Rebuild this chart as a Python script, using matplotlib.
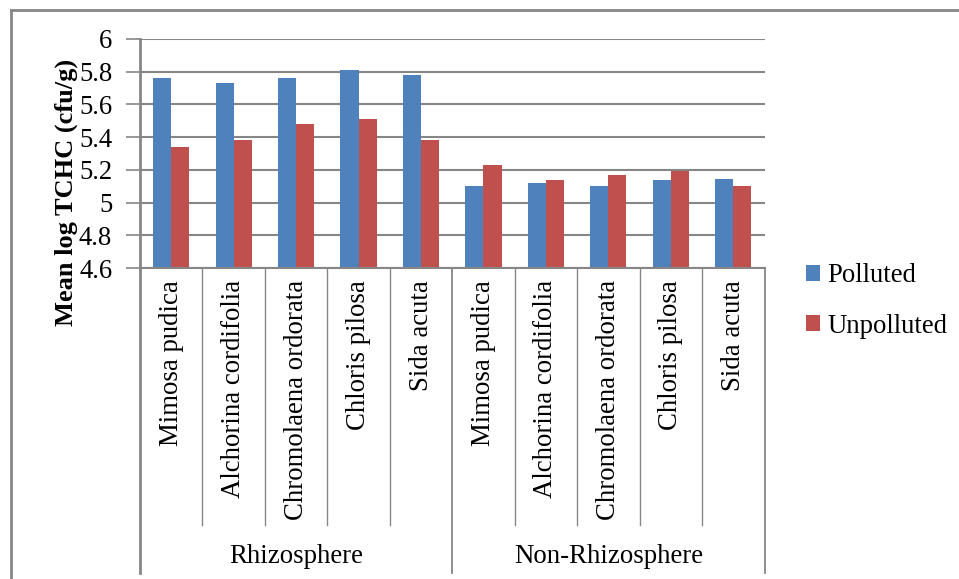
import matplotlib
matplotlib.use("Agg")
import matplotlib.pyplot as plt
from matplotlib.lines import Line2D
from matplotlib.patches import Patch
import numpy as np

plt.rcParams['font.family'] = ['Liberation Serif', 'DejaVu Serif']

groups = ["Rhizosphere", "Non-Rhizosphere"]
plants = ["Mimosa pudica", "Alchorina cordifolia", "Chromolaena ordorata",
          "Chloris pilosa", "Sida acuta"]
polluted = [5.76, 5.73, 5.76, 5.81, 5.78, 5.10, 5.12, 5.10, 5.14, 5.145]
unpolluted = [5.34, 5.38, 5.48, 5.51, 5.38, 5.23, 5.14, 5.17, 5.19, 5.10]
series_names = ["Polluted", "Unpolluted"]
colors = ["#4F81BD", "#C0504D"]
y_ticks = [4.6, 4.8, 5.0, 5.2, 5.4, 5.6, 5.8, 6.0]
y_tick_labels = ["4.6", "4.8", "5", "5.2", "5.4", "5.6", "5.8", "6"]

W, H = 959, 579
fig = plt.figure(figsize=(W / 100, H / 100), dpi=100)
grey = "#868686"
fs = 19.3

# outer chart frame (top and left edges visible)
fig.add_artist(Line2D([11 / W, 1.0], [1 - 10 / H, 1 - 10 / H], color=grey, lw=2))
fig.add_artist(Line2D([11 / W, 11 / W], [1 - 10 / H, 0.0], color=grey, lw=2))

x0, x1, y0, y1 = 140, 764.5, 268, 39
ax = fig.add_axes([x0 / W, 1 - y0 / H, (x1 - x0) / W, (y0 - y1) / H])

labels = plants * len(groups)
n = len(labels)
x = np.arange(n)
bw = 0.29
ax.bar(x - bw / 2, polluted, width=bw, color=colors[0], zorder=3)
ax.bar(x + bw / 2, unpolluted, width=bw, color=colors[1], zorder=3)

ax.set_xlim(-0.5, n - 0.5)
ax.set_ylim(4.6, 6.0)
ax.set_yticks(y_ticks)
ax.set_yticklabels(y_tick_labels, fontsize=fs)
ax.yaxis.grid(True, color=grey, lw=1.5, zorder=0)
ax.tick_params(axis='y', direction='out', length=10, width=1.2, color=grey, pad=10)
for s in ["top", "right", "bottom"]:
    ax.spines[s].set_visible(False)
ax.spines["left"].set_color(grey)
ax.spines["left"].set_linewidth(2)

ax.set_xticks(x)
ax.set_xticklabels([])
ax.tick_params(axis='x', length=0)

trans = ax.get_xaxis_transform()
ax_h = y0 - y1
# bottom axis line
ax.plot([-0.5, n - 0.5], [0, 0], transform=trans, color=grey, lw=1.5, clip_on=False, zorder=4)

# category labels (rotated) and dividers
for i, lab in enumerate(labels):
    ax.text(i, -12 / ax_h, lab, transform=trans, rotation=90, ha='center', va='top',
            fontsize=fs)
for b in np.arange(0.5, n - 0.5, 1.0):
    if abs(b - (len(plants) - 0.5)) < 1e-9:
        continue
    ax.plot([b, b], [0, -(525 - y0) / ax_h], transform=trans, color=grey, lw=1,
            clip_on=False)
# group dividers and labels
for b in [-0.5, len(plants) - 0.5, n - 0.5]:
    ax.plot([b, b], [0, -(573 - y0) / ax_h], transform=trans, color=grey,
            lw=2 if b == -0.5 else 1.3, clip_on=False)
for g, name in enumerate(groups):
    c = g * len(plants) + (len(plants) - 1) / 2
    ax.text(c, -(557 - y0) / ax_h, name, transform=trans, ha='center', va='center',
            fontsize=fs)

# y-axis title
fig.text(66 / W, 1 - 192 / H, "Mean log TCHC (cfu/g)", rotation=90, ha='center',
         va='center', fontsize=19, fontweight='bold')

# legend
handles = [Patch(facecolor=c, edgecolor='none') for c in colors]
fig.legend(handles, series_names, loc='center left',
           bbox_to_anchor=(795 / W, 1 - 301 / H), frameon=False, fontsize=fs,
           handlelength=0.55, handleheight=0.55, handletextpad=0.25,
           labelspacing=0.95, borderaxespad=0)

fig.savefig("out.png", dpi=100)
